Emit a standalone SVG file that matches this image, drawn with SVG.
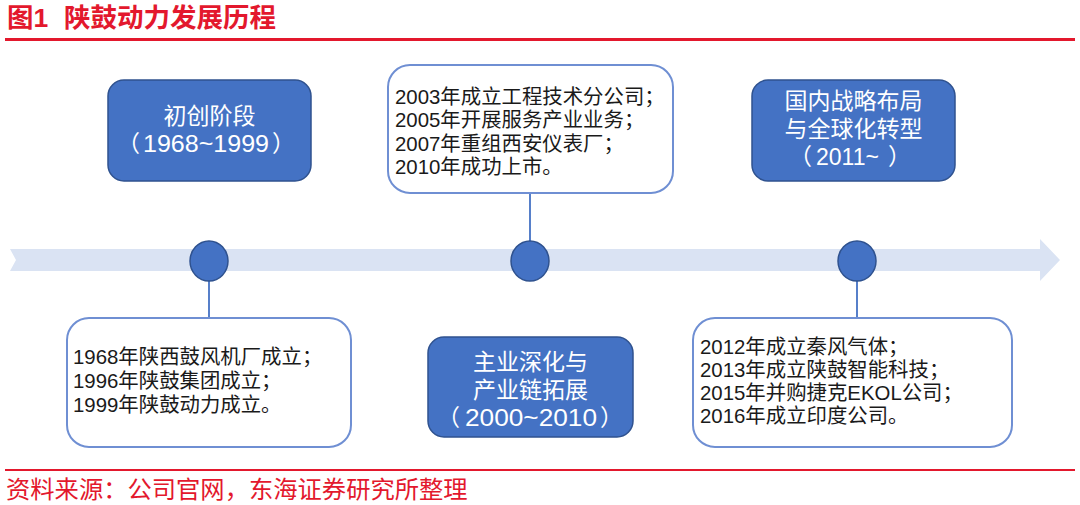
<svg xmlns="http://www.w3.org/2000/svg" width="1080" height="505" viewBox="0 0 1080 505">
<style>
.title{font-family:"Liberation Sans","Noto Sans CJK SC",sans-serif;font-size:26.5px;font-weight:bold;fill:#e3182d}
.foot{font-family:"Liberation Sans","Noto Sans CJK SC",sans-serif;font-size:24.3px;fill:#e3182d}
.dark{fill:#4472c4;stroke:#2f528f;stroke-width:1.5}
.light{fill:#ffffff;stroke:#6f8fd3;stroke-width:2}
.wt{font-family:"Liberation Sans","Noto Sans CJK SC",sans-serif;font-size:23px;fill:#ffffff;text-anchor:middle}
.ws{font-family:"Liberation Sans","Noto Sans CJK SC",sans-serif;font-size:23px;fill:#ffffff}
.bt{font-family:"Liberation Sans","Noto Sans CJK SC",sans-serif;font-size:20.4px;fill:#1a1a1a}
.dot{fill:#4472c4;stroke:#2f528f;stroke-width:1.5}
.conn{stroke:#4472c4;stroke-width:1.8;fill:none}
</style>
<rect width="1080" height="505" fill="#ffffff"/>
<text class="title" y="27"><tspan x="7">图1</tspan><tspan x="64">陕鼓动力发展历程</tspan></text>
<rect x="5" y="38" width="1070" height="3" fill="#e3182d"/>
<g id="timeline">
<polygon points="10,249 1040,249 1040,239 1060,260 1040,281 1040,271 10,271 16,260" fill="#dae3f3"/>
</g>
<g id="connectors">
<line class="conn" x1="209" y1="281" x2="209" y2="318"/>
<line class="conn" x1="530" y1="241" x2="530" y2="193"/>
<line class="conn" x1="857" y1="281" x2="857" y2="318"/>
</g>
<g id="dot1"><ellipse class="dot" cx="209" cy="261" rx="19" ry="20"/></g>
<g id="dot2"><ellipse class="dot" cx="530" cy="261" rx="19" ry="20"/></g>
<g id="dot3"><ellipse class="dot" cx="857" cy="261" rx="19" ry="20"/></g>
<g id="stage1">
<rect class="dark" x="108" y="80" width="203" height="101" rx="16"/>
<text class="wt" x="209.5" y="124">初创阶段</text>
<text class="ws" y="152"><tspan x="117">（</tspan><tspan x="143" textLength="126" lengthAdjust="spacingAndGlyphs">1968~1999</tspan><tspan x="272">）</tspan></text>
</g>
<g id="stage2">
<rect class="dark" x="428" y="337" width="205" height="100" rx="16"/>
<text class="wt" x="530.5" y="370">主业深化与</text>
<text class="wt" x="530.5" y="398">产业链拓展</text>
<text class="ws" y="426"><tspan x="437">（</tspan><tspan x="465" textLength="132" lengthAdjust="spacingAndGlyphs">2000~2010</tspan><tspan x="600">）</tspan></text>
</g>
<g id="stage3">
<rect class="dark" x="752" y="80" width="203" height="101" rx="16"/>
<text class="wt" x="853.5" y="109">国内战略布局</text>
<text class="wt" x="853.5" y="137">与全球化转型</text>
<text class="ws" y="165"><tspan x="789">（</tspan><tspan x="816">2011~</tspan><tspan x="888">）</tspan></text>
</g>
<g id="events1">
<rect class="light" x="67" y="318" width="284" height="129" rx="22"/>
<text class="bt" x="73" y="364">1968年陕西鼓风机厂成立；</text>
<text class="bt" x="73" y="388">1996年陕鼓集团成立；</text>
<text class="bt" x="73" y="412">1999年陕鼓动力成立。</text>
</g>
<g id="events2">
<rect class="light" x="388" y="65" width="285" height="128" rx="22"/>
<text class="bt" x="395" y="104">2003年成立工程技术分公司；</text>
<text class="bt" x="395" y="127">2005年开展服务产业业务；</text>
<text class="bt" x="395" y="151">2007年重组西安仪表厂；</text>
<text class="bt" x="395" y="174">2010年成功上市。</text>
</g>
<g id="events3">
<rect class="light" x="693" y="318" width="319" height="129" rx="22"/>
<text class="bt" x="700" y="354">2012年成立秦风气体；</text>
<text class="bt" x="700" y="377">2013年成立陕鼓智能科技；</text>
<text class="bt" x="700" y="400">2015年并购捷克EKOL公司；</text>
<text class="bt" x="700" y="423">2016年成立印度公司。</text>
</g>
<rect x="5" y="469" width="1070" height="2" fill="#e3182d"/>
<text class="foot" x="6" y="498">资料来源：公司官网，东海证券研究所整理</text>
</svg>
